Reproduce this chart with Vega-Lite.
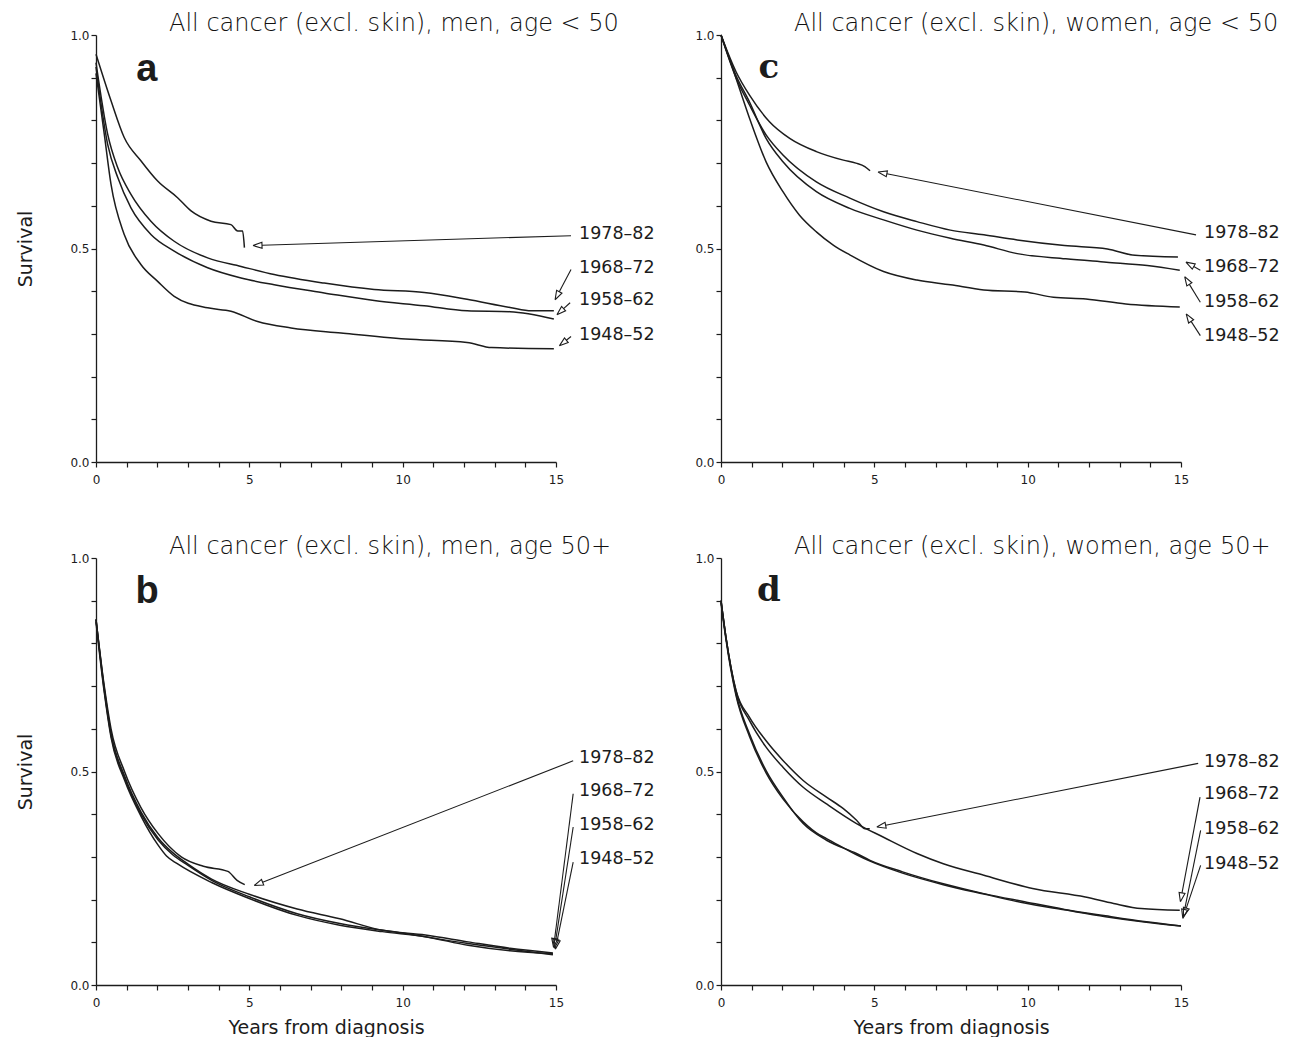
{
  "$schema": "https://vega.github.io/schema/vega-lite/v6.json",
  "background": "white",
  "padding": {"left": 16, "top": 12, "right": 5, "bottom": 0},
  "bounds": "flush",
  "columns": 2,
  "spacing": {"row": 96, "column": 165},
  "config": {
    "view": {"stroke": null},
    "axis": {"grid": false, "domainColor": "#1c1c1c", "domainWidth": 1.3, "tickColor": "#1c1c1c", "tickWidth": 1.2, "tickSize": 5, "labelFont": "DejaVu Sans", "labelFontSize": 12, "labelColor": "#1c1c1c", "titleFont": "DejaVu Sans", "titleFontSize": 19, "titleFontWeight": "normal", "titleColor": "#1c1c1c", "labelOverlap": false, "labelFlush": false},
    "axisX": {"labelPadding": 7, "titlePadding": 10},
    "axisY": {"labelPadding": 2, "titlePadding": 34},
    "title": {"anchor": "start", "frame": "group", "dx": 73, "offset": -7, "baseline": "alphabetic", "font": "DejaVu Sans", "fontSize": 24, "fontWeight": 200, "color": "#111111"}
  },
  "datasets": {
    "curves": [
      {"panel":"a","cohort":"1978–82","t":0,"s":0.955},{"panel":"a","cohort":"1978–82","t":0.49,"s":0.846},{"panel":"a","cohort":"1978–82","t":0.92,"s":0.76},{"panel":"a","cohort":"1978–82","t":1.47,"s":0.705},{"panel":"a","cohort":"1978–82","t":2.01,"s":0.658},{"panel":"a","cohort":"1978–82","t":2.66,"s":0.619},{"panel":"a","cohort":"1978–82","t":3.1,"s":0.588},{"panel":"a","cohort":"1978–82","t":3.75,"s":0.564},{"panel":"a","cohort":"1978–82","t":4.4,"s":0.556},{"panel":"a","cohort":"1978–82","t":4.62,"s":0.541},{"panel":"a","cohort":"1978–82","t":4.78,"s":0.541},{"panel":"a","cohort":"1978–82","t":4.84,"s":0.502},
      {"panel":"a","cohort":"1968–72","t":0,"s":0.935},{"panel":"a","cohort":"1968–72","t":0.38,"s":0.768},{"panel":"a","cohort":"1968–72","t":0.71,"s":0.689},{"panel":"a","cohort":"1968–72","t":1.14,"s":0.627},{"panel":"a","cohort":"1968–72","t":1.79,"s":0.564},{"panel":"a","cohort":"1968–72","t":2.55,"s":0.517},{"panel":"a","cohort":"1968–72","t":3.64,"s":0.478},{"panel":"a","cohort":"1968–72","t":4.73,"s":0.458},{"panel":"a","cohort":"1968–72","t":5.81,"s":0.439},{"panel":"a","cohort":"1968–72","t":7.44,"s":0.419},{"panel":"a","cohort":"1968–72","t":9.07,"s":0.404},{"panel":"a","cohort":"1968–72","t":10.7,"s":0.397},{"panel":"a","cohort":"1968–72","t":12.1,"s":0.381},{"panel":"a","cohort":"1968–72","t":13.5,"s":0.362},{"panel":"a","cohort":"1968–72","t":14.2,"s":0.354},{"panel":"a","cohort":"1968–72","t":14.93,"s":0.354},
      {"panel":"a","cohort":"1958–62","t":0,"s":0.925},{"panel":"a","cohort":"1958–62","t":0.38,"s":0.744},{"panel":"a","cohort":"1958–62","t":0.71,"s":0.666},{"panel":"a","cohort":"1958–62","t":1.14,"s":0.595},{"panel":"a","cohort":"1958–62","t":1.79,"s":0.533},{"panel":"a","cohort":"1958–62","t":2.55,"s":0.494},{"panel":"a","cohort":"1958–62","t":3.64,"s":0.455},{"panel":"a","cohort":"1958–62","t":4.73,"s":0.431},{"panel":"a","cohort":"1958–62","t":5.81,"s":0.415},{"panel":"a","cohort":"1958–62","t":7.44,"s":0.396},{"panel":"a","cohort":"1958–62","t":9.07,"s":0.378},{"panel":"a","cohort":"1958–62","t":10.7,"s":0.366},{"panel":"a","cohort":"1958–62","t":12.1,"s":0.354},{"panel":"a","cohort":"1958–62","t":13.5,"s":0.352},{"panel":"a","cohort":"1958–62","t":14.93,"s":0.335},
      {"panel":"a","cohort":"1948–52","t":0,"s":0.91},{"panel":"a","cohort":"1948–52","t":0.27,"s":0.768},{"panel":"a","cohort":"1948–52","t":0.49,"s":0.65},{"panel":"a","cohort":"1948–52","t":0.92,"s":0.533},{"panel":"a","cohort":"1948–52","t":1.47,"s":0.462},{"panel":"a","cohort":"1948–52","t":2.01,"s":0.423},{"panel":"a","cohort":"1948–52","t":2.55,"s":0.388},{"panel":"a","cohort":"1948–52","t":3.64,"s":0.361},{"panel":"a","cohort":"1948–52","t":4.4,"s":0.353},{"panel":"a","cohort":"1948–52","t":5.27,"s":0.329},{"panel":"a","cohort":"1948–52","t":6.36,"s":0.314},{"panel":"a","cohort":"1948–52","t":7.99,"s":0.302},{"panel":"a","cohort":"1948–52","t":10.1,"s":0.288},{"panel":"a","cohort":"1948–52","t":12.1,"s":0.28},{"panel":"a","cohort":"1948–52","t":12.9,"s":0.268},{"panel":"a","cohort":"1948–52","t":14.93,"s":0.265},
      {"panel":"c","cohort":"1978–82","t":0,"s":1.0},{"panel":"c","cohort":"1978–82","t":0.49,"s":0.914},{"panel":"c","cohort":"1978–82","t":0.93,"s":0.859},{"panel":"c","cohort":"1978–82","t":1.58,"s":0.797},{"panel":"c","cohort":"1978–82","t":2.24,"s":0.758},{"panel":"c","cohort":"1978–82","t":3.11,"s":0.727},{"panel":"c","cohort":"1978–82","t":3.99,"s":0.707},{"panel":"c","cohort":"1978–82","t":4.4,"s":0.70},{"panel":"c","cohort":"1978–82","t":4.69,"s":0.692},{"panel":"c","cohort":"1978–82","t":4.86,"s":0.682},
      {"panel":"c","cohort":"1968–72","t":0,"s":1.0},{"panel":"c","cohort":"1968–72","t":0.49,"s":0.90},{"panel":"c","cohort":"1968–72","t":0.93,"s":0.836},{"panel":"c","cohort":"1968–72","t":1.47,"s":0.766},{"panel":"c","cohort":"1968–72","t":2.02,"s":0.719},{"panel":"c","cohort":"1968–72","t":3.11,"s":0.656},{"panel":"c","cohort":"1968–72","t":4.2,"s":0.618},{"panel":"c","cohort":"1968–72","t":5.3,"s":0.586},{"panel":"c","cohort":"1968–72","t":6.39,"s":0.563},{"panel":"c","cohort":"1968–72","t":7.48,"s":0.543},{"panel":"c","cohort":"1968–72","t":8.57,"s":0.532},{"panel":"c","cohort":"1968–72","t":9.66,"s":0.52},{"panel":"c","cohort":"1968–72","t":11.2,"s":0.507},{"panel":"c","cohort":"1968–72","t":12.6,"s":0.499},{"panel":"c","cohort":"1968–72","t":13.5,"s":0.484},{"panel":"c","cohort":"1968–72","t":14.9,"s":0.48},
      {"panel":"c","cohort":"1958–62","t":0,"s":1.0},{"panel":"c","cohort":"1958–62","t":0.49,"s":0.905},{"panel":"c","cohort":"1958–62","t":0.93,"s":0.843},{"panel":"c","cohort":"1958–62","t":1.47,"s":0.758},{"panel":"c","cohort":"1958–62","t":2.02,"s":0.703},{"panel":"c","cohort":"1958–62","t":3.11,"s":0.633},{"panel":"c","cohort":"1958–62","t":4.2,"s":0.594},{"panel":"c","cohort":"1958–62","t":5.3,"s":0.567},{"panel":"c","cohort":"1958–62","t":6.39,"s":0.543},{"panel":"c","cohort":"1958–62","t":7.48,"s":0.524},{"panel":"c","cohort":"1958–62","t":8.57,"s":0.508},{"panel":"c","cohort":"1958–62","t":9.66,"s":0.488},{"panel":"c","cohort":"1958–62","t":11.24,"s":0.476},{"panel":"c","cohort":"1958–62","t":12.57,"s":0.468},{"panel":"c","cohort":"1958–62","t":13.9,"s":0.46},{"panel":"c","cohort":"1958–62","t":14.96,"s":0.449},
      {"panel":"c","cohort":"1948–52","t":0,"s":1.0},{"panel":"c","cohort":"1948–52","t":0.38,"s":0.922},{"panel":"c","cohort":"1948–52","t":0.93,"s":0.805},{"panel":"c","cohort":"1948–52","t":1.47,"s":0.703},{"panel":"c","cohort":"1948–52","t":2.02,"s":0.633},{"panel":"c","cohort":"1948–52","t":2.56,"s":0.578},{"panel":"c","cohort":"1948–52","t":3.11,"s":0.539},{"panel":"c","cohort":"1948–52","t":3.66,"s":0.508},{"panel":"c","cohort":"1948–52","t":4.2,"s":0.485},{"panel":"c","cohort":"1948–52","t":5.3,"s":0.446},{"panel":"c","cohort":"1948–52","t":6.39,"s":0.426},{"panel":"c","cohort":"1948–52","t":7.48,"s":0.415},{"panel":"c","cohort":"1948–52","t":8.57,"s":0.403},{"panel":"c","cohort":"1948–52","t":9.91,"s":0.398},{"panel":"c","cohort":"1948–52","t":10.84,"s":0.386},{"panel":"c","cohort":"1948–52","t":11.9,"s":0.382},{"panel":"c","cohort":"1948–52","t":13.2,"s":0.37},{"panel":"c","cohort":"1948–52","t":14.96,"s":0.363},
      {"panel":"b","cohort":"1978–82","t":0,"s":0.856},{"panel":"b","cohort":"1978–82","t":0.27,"s":0.70},{"panel":"b","cohort":"1978–82","t":0.49,"s":0.60},{"panel":"b","cohort":"1978–82","t":0.93,"s":0.50},{"panel":"b","cohort":"1978–82","t":1.47,"s":0.415},{"panel":"b","cohort":"1978–82","t":2.02,"s":0.355},{"panel":"b","cohort":"1978–82","t":2.78,"s":0.30},{"panel":"b","cohort":"1978–82","t":3.5,"s":0.278},{"panel":"b","cohort":"1978–82","t":4.3,"s":0.266},{"panel":"b","cohort":"1978–82","t":4.6,"s":0.245},{"panel":"b","cohort":"1978–82","t":4.85,"s":0.235},
      {"panel":"b","cohort":"1968–72","t":0,"s":0.856},{"panel":"b","cohort":"1968–72","t":0.27,"s":0.695},{"panel":"b","cohort":"1968–72","t":0.49,"s":0.59},{"panel":"b","cohort":"1968–72","t":0.93,"s":0.49},{"panel":"b","cohort":"1968–72","t":1.47,"s":0.405},{"panel":"b","cohort":"1968–72","t":2.02,"s":0.345},{"panel":"b","cohort":"1968–72","t":2.5,"s":0.31},{"panel":"b","cohort":"1968–72","t":3.0,"s":0.283},{"panel":"b","cohort":"1968–72","t":3.77,"s":0.248},{"panel":"b","cohort":"1968–72","t":5.02,"s":0.212},{"panel":"b","cohort":"1968–72","t":6.56,"s":0.178},{"panel":"b","cohort":"1968–72","t":7.95,"s":0.155},{"panel":"b","cohort":"1968–72","t":9.34,"s":0.128},{"panel":"b","cohort":"1968–72","t":10.74,"s":0.117},{"panel":"b","cohort":"1968–72","t":12.13,"s":0.101},{"panel":"b","cohort":"1968–72","t":13.5,"s":0.086},{"panel":"b","cohort":"1968–72","t":14.9,"s":0.075},
      {"panel":"b","cohort":"1958–62","t":0,"s":0.856},{"panel":"b","cohort":"1958–62","t":0.27,"s":0.69},{"panel":"b","cohort":"1958–62","t":0.49,"s":0.585},{"panel":"b","cohort":"1958–62","t":0.93,"s":0.485},{"panel":"b","cohort":"1958–62","t":1.47,"s":0.40},{"panel":"b","cohort":"1958–62","t":2.02,"s":0.34},{"panel":"b","cohort":"1958–62","t":2.5,"s":0.305},{"panel":"b","cohort":"1958–62","t":3.0,"s":0.28},{"panel":"b","cohort":"1958–62","t":3.77,"s":0.245},{"panel":"b","cohort":"1958–62","t":5.02,"s":0.206},{"panel":"b","cohort":"1958–62","t":6.56,"s":0.167},{"panel":"b","cohort":"1958–62","t":7.95,"s":0.144},{"panel":"b","cohort":"1958–62","t":10.04,"s":0.121},{"panel":"b","cohort":"1958–62","t":12.13,"s":0.097},{"panel":"b","cohort":"1958–62","t":13.5,"s":0.084},{"panel":"b","cohort":"1958–62","t":14.9,"s":0.071},
      {"panel":"b","cohort":"1948–52","t":0,"s":0.85},{"panel":"b","cohort":"1948–52","t":0.27,"s":0.685},{"panel":"b","cohort":"1948–52","t":0.49,"s":0.58},{"panel":"b","cohort":"1948–52","t":0.93,"s":0.48},{"panel":"b","cohort":"1948–52","t":1.47,"s":0.395},{"panel":"b","cohort":"1948–52","t":2.02,"s":0.328},{"panel":"b","cohort":"1948–52","t":2.3,"s":0.302},{"panel":"b","cohort":"1948–52","t":2.65,"s":0.284},{"panel":"b","cohort":"1948–52","t":3.77,"s":0.24},{"panel":"b","cohort":"1948–52","t":5.02,"s":0.202},{"panel":"b","cohort":"1948–52","t":6.56,"s":0.163},{"panel":"b","cohort":"1948–52","t":7.95,"s":0.14},{"panel":"b","cohort":"1948–52","t":9.34,"s":0.125},{"panel":"b","cohort":"1948–52","t":10.74,"s":0.113},{"panel":"b","cohort":"1948–52","t":12.13,"s":0.093},{"panel":"b","cohort":"1948–52","t":13.5,"s":0.08},{"panel":"b","cohort":"1948–52","t":14.9,"s":0.073},
      {"panel":"d","cohort":"1978–82","t":0,"s":0.90},{"panel":"d","cohort":"1978–82","t":0.16,"s":0.815},{"panel":"d","cohort":"1978–82","t":0.49,"s":0.69},{"panel":"d","cohort":"1978–82","t":0.93,"s":0.627},{"panel":"d","cohort":"1978–82","t":1.47,"s":0.572},{"panel":"d","cohort":"1978–82","t":2.02,"s":0.526},{"panel":"d","cohort":"1978–82","t":2.68,"s":0.479},{"panel":"d","cohort":"1978–82","t":3.44,"s":0.44},{"panel":"d","cohort":"1978–82","t":3.99,"s":0.413},{"panel":"d","cohort":"1978–82","t":4.42,"s":0.386},{"panel":"d","cohort":"1978–82","t":4.7,"s":0.366},{"panel":"d","cohort":"1978–82","t":4.85,"s":0.366},
      {"panel":"d","cohort":"1968–72","t":0,"s":0.90},{"panel":"d","cohort":"1968–72","t":0.16,"s":0.815},{"panel":"d","cohort":"1968–72","t":0.49,"s":0.688},{"panel":"d","cohort":"1968–72","t":0.93,"s":0.619},{"panel":"d","cohort":"1968–72","t":1.47,"s":0.557},{"panel":"d","cohort":"1968–72","t":2.02,"s":0.51},{"panel":"d","cohort":"1968–72","t":2.68,"s":0.463},{"panel":"d","cohort":"1968–72","t":3.44,"s":0.424},{"panel":"d","cohort":"1968–72","t":4.42,"s":0.378},{"panel":"d","cohort":"1968–72","t":5.3,"s":0.346},{"panel":"d","cohort":"1968–72","t":6.39,"s":0.308},{"panel":"d","cohort":"1968–72","t":7.25,"s":0.284},{"panel":"d","cohort":"1968–72","t":8.57,"s":0.257},{"panel":"d","cohort":"1968–72","t":10.16,"s":0.226},{"panel":"d","cohort":"1968–72","t":11.88,"s":0.206},{"panel":"d","cohort":"1968–72","t":12.8,"s":0.191},{"panel":"d","cohort":"1968–72","t":13.7,"s":0.179},{"panel":"d","cohort":"1968–72","t":14.96,"s":0.175},
      {"panel":"d","cohort":"1958–62","t":0,"s":0.90},{"panel":"d","cohort":"1958–62","t":0.16,"s":0.815},{"panel":"d","cohort":"1958–62","t":0.49,"s":0.682},{"panel":"d","cohort":"1958–62","t":0.93,"s":0.588},{"panel":"d","cohort":"1958–62","t":1.47,"s":0.502},{"panel":"d","cohort":"1958–62","t":2.02,"s":0.44},{"panel":"d","cohort":"1958–62","t":2.68,"s":0.378},{"panel":"d","cohort":"1958–62","t":3.44,"s":0.339},{"panel":"d","cohort":"1958–62","t":4.42,"s":0.308},{"panel":"d","cohort":"1958–62","t":4.86,"s":0.292},{"panel":"d","cohort":"1958–62","t":5.92,"s":0.265},{"panel":"d","cohort":"1958–62","t":7.25,"s":0.237},{"panel":"d","cohort":"1958–62","t":8.57,"s":0.214},{"panel":"d","cohort":"1958–62","t":9.9,"s":0.195},{"panel":"d","cohort":"1958–62","t":11.2,"s":0.177},{"panel":"d","cohort":"1958–62","t":12.54,"s":0.162},{"panel":"d","cohort":"1958–62","t":13.87,"s":0.148},{"panel":"d","cohort":"1958–62","t":15.0,"s":0.138},
      {"panel":"d","cohort":"1948–52","t":0,"s":0.895},{"panel":"d","cohort":"1948–52","t":0.16,"s":0.81},{"panel":"d","cohort":"1948–52","t":0.49,"s":0.678},{"panel":"d","cohort":"1948–52","t":0.93,"s":0.582},{"panel":"d","cohort":"1948–52","t":1.47,"s":0.497},{"panel":"d","cohort":"1948–52","t":2.02,"s":0.436},{"panel":"d","cohort":"1948–52","t":2.68,"s":0.382},{"panel":"d","cohort":"1948–52","t":3.2,"s":0.352},{"panel":"d","cohort":"1948–52","t":3.44,"s":0.343},{"panel":"d","cohort":"1948–52","t":4.42,"s":0.305},{"panel":"d","cohort":"1948–52","t":4.86,"s":0.29},{"panel":"d","cohort":"1948–52","t":5.92,"s":0.262},{"panel":"d","cohort":"1948–52","t":7.25,"s":0.235},{"panel":"d","cohort":"1948–52","t":8.57,"s":0.213},{"panel":"d","cohort":"1948–52","t":9.9,"s":0.192},{"panel":"d","cohort":"1948–52","t":11.2,"s":0.176},{"panel":"d","cohort":"1948–52","t":12.54,"s":0.16},{"panel":"d","cohort":"1948–52","t":13.87,"s":0.147},{"panel":"d","cohort":"1948–52","t":15.0,"s":0.138}
    ],
    "leaders": [
      {"panel":"a","cohort":"1978–82","k":0,"t":15.49,"s":0.53},{"panel":"a","cohort":"1978–82","k":1,"t":5.413,"s":0.5077},
      {"panel":"a","cohort":"1968–72","k":0,"t":15.49,"s":0.451},{"panel":"a","cohort":"1968–72","k":1,"t":15.107,"s":0.3987},
      {"panel":"a","cohort":"1958–62","k":0,"t":15.46,"s":0.373},{"panel":"a","cohort":"1958–62","k":1,"t":15.2475,"s":0.3592},
      {"panel":"a","cohort":"1948–52","k":0,"t":15.49,"s":0.294},{"panel":"a","cohort":"1948–52","k":1,"t":15.338,"s":0.2852},
      {"panel":"c","cohort":"1978–82","k":0,"t":15.49,"s":0.532},{"panel":"c","cohort":"1978–82","k":1,"t":5.408,"s":0.6749},
      {"panel":"c","cohort":"1968–72","k":0,"t":15.63,"s":0.449},{"panel":"c","cohort":"1968–72","k":1,"t":15.416,"s":0.4577},
      {"panel":"c","cohort":"1958–62","k":0,"t":15.63,"s":0.374},{"panel":"c","cohort":"1958–62","k":1,"t":15.273,"s":0.416},
      {"panel":"c","cohort":"1948–52","k":0,"t":15.63,"s":0.296},{"panel":"c","cohort":"1948–52","k":1,"t":15.33,"s":0.3293},
      {"panel":"b","cohort":"1978–82","k":0,"t":15.56,"s":0.525},{"panel":"b","cohort":"1978–82","k":1,"t":5.433,"s":0.2407},
      {"panel":"b","cohort":"1968–72","k":0,"t":15.56,"s":0.448},{"panel":"b","cohort":"1968–72","k":1,"t":14.957,"s":0.1089},
      {"panel":"b","cohort":"1958–62","k":0,"t":15.56,"s":0.37},{"panel":"b","cohort":"1958–62","k":1,"t":14.995,"s":0.1068},
      {"panel":"b","cohort":"1948–52","k":0,"t":15.56,"s":0.288},{"panel":"b","cohort":"1948–52","k":1,"t":15.039,"s":0.1047},
      {"panel":"d","cohort":"1978–82","k":0,"t":15.56,"s":0.519},{"panel":"d","cohort":"1978–82","k":1,"t":5.368,"s":0.3741},
      {"panel":"d","cohort":"1968–72","k":0,"t":15.62,"s":0.44},{"panel":"d","cohort":"1968–72","k":1,"t":15.034,"s":0.2157},
      {"panel":"d","cohort":"1958–62","k":0,"t":15.64,"s":0.362},{"panel":"d","cohort":"1958–62","k":1,"t":15.118,"s":0.1767},
      {"panel":"d","cohort":"1948–52","k":0,"t":15.64,"s":0.28},{"panel":"d","cohort":"1948–52","k":1,"t":15.173,"s":0.18}
    ],
    "heads": [
      {"panel":"a","cohort":"1978–82","k":0,"t":5.12,"s":0.507},{"panel":"a","cohort":"1978–82","k":1,"t":5.41,"s":0.5147},{"panel":"a","cohort":"1978–82","k":2,"t":5.416,"s":0.5006},{"panel":"a","cohort":"1978–82","k":3,"t":5.12,"s":0.507},
      {"panel":"a","cohort":"1968–72","k":0,"t":14.97,"s":0.38},{"panel":"a","cohort":"1968–72","k":1,"t":15.02,"s":0.402},{"panel":"a","cohort":"1968–72","k":2,"t":15.194,"s":0.3954},{"panel":"a","cohort":"1968–72","k":3,"t":14.97,"s":0.38},
      {"panel":"a","cohort":"1958–62","k":0,"t":15.03,"s":0.345},{"panel":"a","cohort":"1958–62","k":1,"t":15.182,"s":0.3644},{"panel":"a","cohort":"1958–62","k":2,"t":15.313,"s":0.354},{"panel":"a","cohort":"1958–62","k":3,"t":15.03,"s":0.345},
      {"panel":"a","cohort":"1948–52","k":0,"t":15.11,"s":0.272},{"panel":"a","cohort":"1948–52","k":1,"t":15.277,"s":0.2907},{"panel":"a","cohort":"1948–52","k":2,"t":15.399,"s":0.2797},{"panel":"a","cohort":"1948–52","k":3,"t":15.11,"s":0.272},
      {"panel":"c","cohort":"1978–82","k":0,"t":5.12,"s":0.679},{"panel":"c","cohort":"1978–82","k":1,"t":5.427,"s":0.6818},{"panel":"c","cohort":"1978–82","k":2,"t":5.389,"s":0.668},{"panel":"c","cohort":"1978–82","k":3,"t":5.12,"s":0.679},
      {"panel":"c","cohort":"1968–72","k":0,"t":15.16,"s":0.468},{"panel":"c","cohort":"1968–72","k":1,"t":15.464,"s":0.4638},{"panel":"c","cohort":"1968–72","k":2,"t":15.368,"s":0.4516},{"panel":"c","cohort":"1968–72","k":3,"t":15.16,"s":0.468},
      {"panel":"c","cohort":"1958–62","k":0,"t":15.12,"s":0.434},{"panel":"c","cohort":"1958–62","k":1,"t":15.356,"s":0.4197},{"panel":"c","cohort":"1958–62","k":2,"t":15.19,"s":0.4123},{"panel":"c","cohort":"1958–62","k":3,"t":15.12,"s":0.434},
      {"panel":"c","cohort":"1948–52","k":0,"t":15.17,"s":0.347},{"panel":"c","cohort":"1948–52","k":1,"t":15.412,"s":0.3331},{"panel":"c","cohort":"1948–52","k":2,"t":15.248,"s":0.3255},{"panel":"c","cohort":"1948–52","k":3,"t":15.17,"s":0.347},
      {"panel":"b","cohort":"1978–82","k":0,"t":5.16,"s":0.233},{"panel":"b","cohort":"1978–82","k":1,"t":5.397,"s":0.2472},{"panel":"b","cohort":"1978–82","k":2,"t":5.469,"s":0.2342},{"panel":"b","cohort":"1978–82","k":3,"t":5.16,"s":0.233},
      {"panel":"b","cohort":"1968–72","k":0,"t":14.92,"s":0.088},{"panel":"b","cohort":"1968–72","k":1,"t":14.86,"s":0.1098},{"panel":"b","cohort":"1968–72","k":2,"t":15.054,"s":0.108},{"panel":"b","cohort":"1968–72","k":3,"t":14.92,"s":0.088},
      {"panel":"b","cohort":"1958–62","k":0,"t":14.95,"s":0.086},{"panel":"b","cohort":"1958–62","k":1,"t":14.898,"s":0.1079},{"panel":"b","cohort":"1958–62","k":2,"t":15.092,"s":0.1057},{"panel":"b","cohort":"1958–62","k":3,"t":14.95,"s":0.086},
      {"panel":"b","cohort":"1948–52","k":0,"t":14.98,"s":0.084},{"panel":"b","cohort":"1948–52","k":1,"t":14.943,"s":0.1061},{"panel":"b","cohort":"1948–52","k":2,"t":15.135,"s":0.1033},{"panel":"b","cohort":"1948–52","k":3,"t":14.98,"s":0.084},
      {"panel":"d","cohort":"1978–82","k":0,"t":5.08,"s":0.37},{"panel":"d","cohort":"1978–82","k":1,"t":5.349,"s":0.381},{"panel":"d","cohort":"1978–82","k":2,"t":5.387,"s":0.3672},{"panel":"d","cohort":"1978–82","k":3,"t":5.08,"s":0.37},
      {"panel":"d","cohort":"1968–72","k":0,"t":14.98,"s":0.195},{"panel":"d","cohort":"1968–72","k":1,"t":14.938,"s":0.217},{"panel":"d","cohort":"1968–72","k":2,"t":15.13,"s":0.2144},{"panel":"d","cohort":"1968–72","k":3,"t":14.98,"s":0.195},
      {"panel":"d","cohort":"1958–62","k":0,"t":15.06,"s":0.156},{"panel":"d","cohort":"1958–62","k":1,"t":15.022,"s":0.1781},{"panel":"d","cohort":"1958–62","k":2,"t":15.214,"s":0.1753},{"panel":"d","cohort":"1958–62","k":3,"t":15.06,"s":0.156},
      {"panel":"d","cohort":"1948–52","k":0,"t":15.08,"s":0.16},{"panel":"d","cohort":"1948–52","k":1,"t":15.08,"s":0.1822},{"panel":"d","cohort":"1948–52","k":2,"t":15.266,"s":0.1778},{"panel":"d","cohort":"1948–52","k":3,"t":15.08,"s":0.16}
    ],
    "labels": [
      {"panel":"a","cohort":"1978–82","t":15.75,"s":0.535},{"panel":"a","cohort":"1968–72","t":15.75,"s":0.455},{"panel":"a","cohort":"1958–62","t":15.75,"s":0.38},{"panel":"a","cohort":"1948–52","t":15.75,"s":0.298},
      {"panel":"c","cohort":"1978–82","t":15.75,"s":0.536},{"panel":"c","cohort":"1968–72","t":15.75,"s":0.456},{"panel":"c","cohort":"1958–62","t":15.75,"s":0.374},{"panel":"c","cohort":"1948–52","t":15.75,"s":0.296},
      {"panel":"b","cohort":"1978–82","t":15.75,"s":0.531},{"panel":"b","cohort":"1968–72","t":15.75,"s":0.455},{"panel":"b","cohort":"1958–62","t":15.75,"s":0.375},{"panel":"b","cohort":"1948–52","t":15.75,"s":0.296},
      {"panel":"d","cohort":"1978–82","t":15.75,"s":0.522},{"panel":"d","cohort":"1968–72","t":15.75,"s":0.448},{"panel":"d","cohort":"1958–62","t":15.75,"s":0.366},{"panel":"d","cohort":"1948–52","t":15.75,"s":0.284}
    ],
    "letters": [
      {"panel":"a","letter":"a","t":1.66,"s":0.893},
      {"panel":"c","letter":"c","t":1.56,"s":0.899},
      {"panel":"b","letter":"b","t":1.67,"s":0.895},
      {"panel":"d","letter":"d","t":1.56,"s":0.9}
    ]
  },
  "concat": [
    {
      "width": 460, "height": 427,
      "title": {"text": "All cancer (excl. skin), men, age < 50"},
      "encoding": {
        "x": {"field": "t", "type": "quantitative", "scale": {"domain": [0, 15], "nice": false, "zero": false}, "axis": {"title": null, "values": [0,1,2,3,4,5,6,7,8,9,10,11,12,13,14,15], "format": "d", "labelExpr": "datum.value % 5 === 0 ? datum.label : ''"}},
        "y": {"field": "s", "type": "quantitative", "scale": {"domain": [0, 1], "nice": false}, "axis": {"title": "Survival", "values": [0,0.1,0.2,0.3,0.4,0.5,0.6,0.7,0.8,0.9,1], "labelExpr": "round(datum.value*10) % 5 === 0 ? format(datum.value, '.1f') : ''"}}
      },
      "layer": [
        {"data": {"name": "curves"}, "transform": [{"filter": "datum.panel === 'a'"}], "mark": {"type": "line", "stroke": "#1c1c1c", "strokeWidth": 1.5, "interpolate": "monotone"}, "encoding": {"detail": {"field": "cohort"}}},
        {"data": {"name": "leaders"}, "transform": [{"filter": "datum.panel === 'a'"}], "mark": {"type": "line", "stroke": "#1c1c1c", "strokeWidth": 1.1}, "encoding": {"detail": {"field": "cohort"}, "order": {"field": "k", "type": "quantitative"}}},
        {"data": {"name": "heads"}, "transform": [{"filter": "datum.panel === 'a'"}], "mark": {"type": "line", "stroke": "#1c1c1c", "strokeWidth": 1.1}, "encoding": {"detail": {"field": "cohort"}, "order": {"field": "k", "type": "quantitative"}}},
        {"data": {"name": "labels"}, "transform": [{"filter": "datum.panel === 'a'"}], "mark": {"type": "text", "align": "left", "baseline": "middle", "font": "DejaVu Sans", "fontSize": 17.5, "fill": "#1c1c1c"}, "encoding": {"text": {"field": "cohort"}}},
        {"data": {"name": "letters"}, "transform": [{"filter": "datum.panel === 'a'"}], "mark": {"type": "text", "align": "center", "baseline": "alphabetic", "font": "Liberation Sans", "fontWeight": "bold", "fontSize": 38, "fill": "#1c1c1c"}, "encoding": {"text": {"field": "letter"}}}
      ]
    },
    {
      "width": 460, "height": 427,
      "title": {"text": "All cancer (excl. skin), women, age < 50"},
      "encoding": {
        "x": {"field": "t", "type": "quantitative", "scale": {"domain": [0, 15], "nice": false, "zero": false}, "axis": {"title": null, "values": [0,1,2,3,4,5,6,7,8,9,10,11,12,13,14,15], "format": "d", "labelExpr": "datum.value % 5 === 0 ? datum.label : ''"}},
        "y": {"field": "s", "type": "quantitative", "scale": {"domain": [0, 1], "nice": false}, "axis": {"title": null, "values": [0,0.1,0.2,0.3,0.4,0.5,0.6,0.7,0.8,0.9,1], "labelExpr": "round(datum.value*10) % 5 === 0 ? format(datum.value, '.1f') : ''"}}
      },
      "layer": [
        {"data": {"name": "curves"}, "transform": [{"filter": "datum.panel === 'c'"}], "mark": {"type": "line", "stroke": "#1c1c1c", "strokeWidth": 1.5, "interpolate": "monotone"}, "encoding": {"detail": {"field": "cohort"}}},
        {"data": {"name": "leaders"}, "transform": [{"filter": "datum.panel === 'c'"}], "mark": {"type": "line", "stroke": "#1c1c1c", "strokeWidth": 1.1}, "encoding": {"detail": {"field": "cohort"}, "order": {"field": "k", "type": "quantitative"}}},
        {"data": {"name": "heads"}, "transform": [{"filter": "datum.panel === 'c'"}], "mark": {"type": "line", "stroke": "#1c1c1c", "strokeWidth": 1.1}, "encoding": {"detail": {"field": "cohort"}, "order": {"field": "k", "type": "quantitative"}}},
        {"data": {"name": "labels"}, "transform": [{"filter": "datum.panel === 'c'"}], "mark": {"type": "text", "align": "left", "baseline": "middle", "font": "DejaVu Sans", "fontSize": 17.5, "fill": "#1c1c1c"}, "encoding": {"text": {"field": "cohort"}}},
        {"data": {"name": "letters"}, "transform": [{"filter": "datum.panel === 'c'"}], "mark": {"type": "text", "align": "center", "baseline": "alphabetic", "font": "DejaVu Serif", "fontWeight": "bold", "fontSize": 34, "fill": "#1c1c1c"}, "encoding": {"text": {"field": "letter"}}}
      ]
    },
    {
      "width": 460, "height": 427,
      "title": {"text": "All cancer (excl. skin), men, age 50+"},
      "encoding": {
        "x": {"field": "t", "type": "quantitative", "scale": {"domain": [0, 15], "nice": false, "zero": false}, "axis": {"title": "Years from diagnosis", "values": [0,1,2,3,4,5,6,7,8,9,10,11,12,13,14,15], "format": "d", "labelExpr": "datum.value % 5 === 0 ? datum.label : ''"}},
        "y": {"field": "s", "type": "quantitative", "scale": {"domain": [0, 1], "nice": false}, "axis": {"title": "Survival", "values": [0,0.1,0.2,0.3,0.4,0.5,0.6,0.7,0.8,0.9,1], "labelExpr": "round(datum.value*10) % 5 === 0 ? format(datum.value, '.1f') : ''"}}
      },
      "layer": [
        {"data": {"name": "curves"}, "transform": [{"filter": "datum.panel === 'b'"}], "mark": {"type": "line", "stroke": "#1c1c1c", "strokeWidth": 1.5, "interpolate": "monotone"}, "encoding": {"detail": {"field": "cohort"}}},
        {"data": {"name": "leaders"}, "transform": [{"filter": "datum.panel === 'b'"}], "mark": {"type": "line", "stroke": "#1c1c1c", "strokeWidth": 1.1}, "encoding": {"detail": {"field": "cohort"}, "order": {"field": "k", "type": "quantitative"}}},
        {"data": {"name": "heads"}, "transform": [{"filter": "datum.panel === 'b'"}], "mark": {"type": "line", "stroke": "#1c1c1c", "strokeWidth": 1.1}, "encoding": {"detail": {"field": "cohort"}, "order": {"field": "k", "type": "quantitative"}}},
        {"data": {"name": "labels"}, "transform": [{"filter": "datum.panel === 'b'"}], "mark": {"type": "text", "align": "left", "baseline": "middle", "font": "DejaVu Sans", "fontSize": 17.5, "fill": "#1c1c1c"}, "encoding": {"text": {"field": "cohort"}}},
        {"data": {"name": "letters"}, "transform": [{"filter": "datum.panel === 'b'"}], "mark": {"type": "text", "align": "center", "baseline": "alphabetic", "font": "Liberation Sans", "fontWeight": "bold", "fontSize": 38, "fill": "#1c1c1c"}, "encoding": {"text": {"field": "letter"}}}
      ]
    },
    {
      "width": 460, "height": 427,
      "title": {"text": "All cancer (excl. skin), women, age 50+"},
      "encoding": {
        "x": {"field": "t", "type": "quantitative", "scale": {"domain": [0, 15], "nice": false, "zero": false}, "axis": {"title": "Years from diagnosis", "values": [0,1,2,3,4,5,6,7,8,9,10,11,12,13,14,15], "format": "d", "labelExpr": "datum.value % 5 === 0 ? datum.label : ''"}},
        "y": {"field": "s", "type": "quantitative", "scale": {"domain": [0, 1], "nice": false}, "axis": {"title": null, "values": [0,0.1,0.2,0.3,0.4,0.5,0.6,0.7,0.8,0.9,1], "labelExpr": "round(datum.value*10) % 5 === 0 ? format(datum.value, '.1f') : ''"}}
      },
      "layer": [
        {"data": {"name": "curves"}, "transform": [{"filter": "datum.panel === 'd'"}], "mark": {"type": "line", "stroke": "#1c1c1c", "strokeWidth": 1.5, "interpolate": "monotone"}, "encoding": {"detail": {"field": "cohort"}}},
        {"data": {"name": "leaders"}, "transform": [{"filter": "datum.panel === 'd'"}], "mark": {"type": "line", "stroke": "#1c1c1c", "strokeWidth": 1.1}, "encoding": {"detail": {"field": "cohort"}, "order": {"field": "k", "type": "quantitative"}}},
        {"data": {"name": "heads"}, "transform": [{"filter": "datum.panel === 'd'"}], "mark": {"type": "line", "stroke": "#1c1c1c", "strokeWidth": 1.1}, "encoding": {"detail": {"field": "cohort"}, "order": {"field": "k", "type": "quantitative"}}},
        {"data": {"name": "labels"}, "transform": [{"filter": "datum.panel === 'd'"}], "mark": {"type": "text", "align": "left", "baseline": "middle", "font": "DejaVu Sans", "fontSize": 17.5, "fill": "#1c1c1c"}, "encoding": {"text": {"field": "cohort"}}},
        {"data": {"name": "letters"}, "transform": [{"filter": "datum.panel === 'd'"}], "mark": {"type": "text", "align": "center", "baseline": "alphabetic", "font": "DejaVu Serif", "fontWeight": "bold", "fontSize": 34, "fill": "#1c1c1c"}, "encoding": {"text": {"field": "letter"}}}
      ]
    }
  ]
}
